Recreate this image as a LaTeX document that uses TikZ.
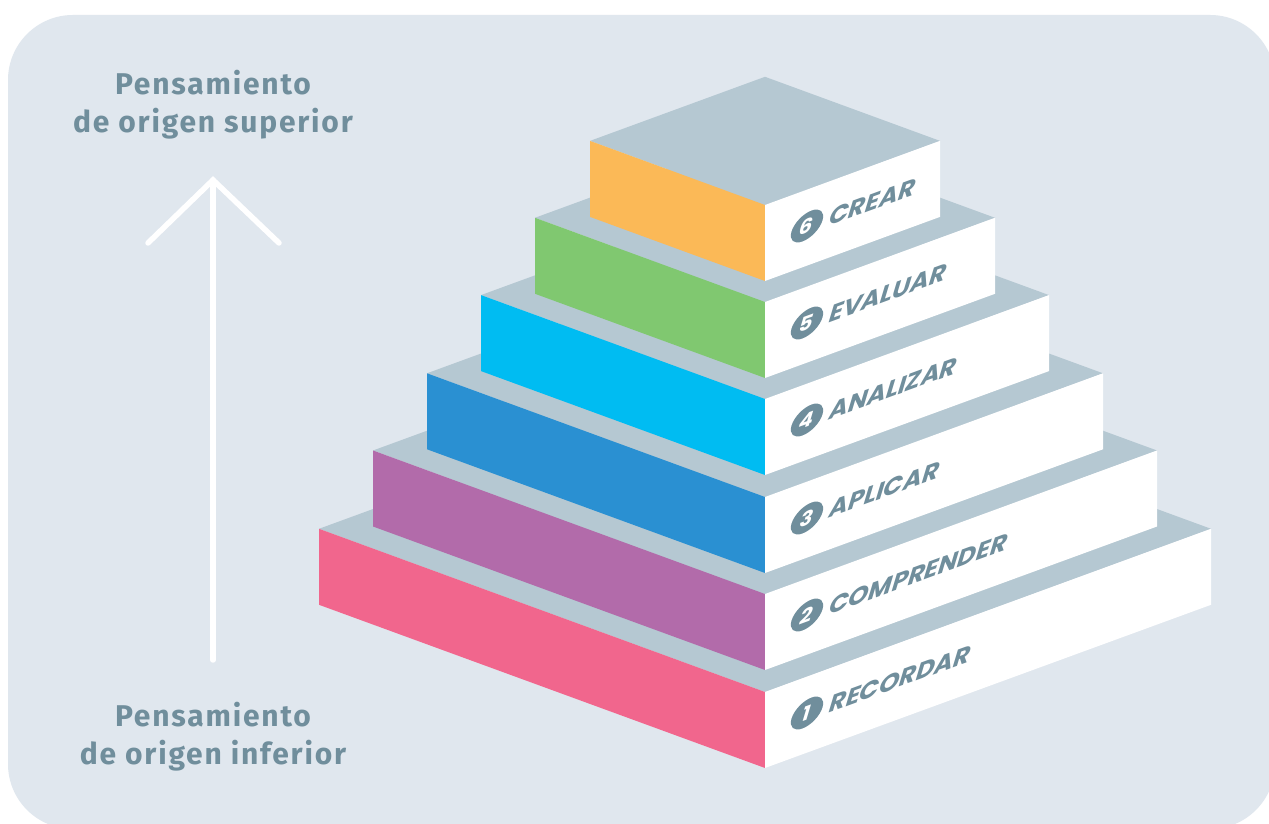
\documentclass[tikz,border=0pt]{standalone}
\usepackage{fontspec}
\setmainfont{Fira Sans}
\newfontfamily\stepfont{Poppins}
\definecolor{bgcol}{HTML}{E0E7EE}
\definecolor{topcol}{HTML}{B5C8D2}
\definecolor{txtcol}{HTML}{708E9C}
\definecolor{recorcol}{HTML}{F1668D}
\definecolor{compcol}{HTML}{B26BAA}
\definecolor{aplicol}{HTML}{2A90D2}
\definecolor{analizcol}{HTML}{00BCF2}
\definecolor{evalcol}{HTML}{80C870}
\definecolor{crearcol}{HTML}{FBB957}
\tikzset{
  topface/.style={fill=topcol},
  sideface/.style={fill=white},
  facetext/.style={cm={1,0.366,0.3,1,(0,0)}, transform shape},
  numdot/.style={circle, fill=txtcol, inner sep=0pt, minimum size=31pt,
    text=white, font=\stepfont\bfseries\fontsize{21}{21}\selectfont},
  steplabel/.style={anchor=west, inner sep=0pt, text=txtcol,
    font=\stepfont\bfseries\fontsize{25.5}{25.5}\selectfont},
  sidelabel/.style={anchor=base, inner sep=0pt, text=txtcol,
    font=\bfseries\fontsize{30}{30}\selectfont\addfontfeature{LetterSpace=6}}
}
\begin{document}
\begin{tikzpicture}[x=1pt, y=1pt]
        \useasboundingbox (0,0) rectangle (1269,824);
        \fill[white] (0,0) rectangle (1269,824);
        \fill[bgcol, rounded corners=65pt] (8,-5) rectangle (1275,809);

        % Arrow (upwards)
        \coordinate (arrowbot) at (213,164);
        \coordinate (arrowtop) at (213,644);
        \draw[white, line width=5.5pt, line cap=round] (arrowbot) -- (arrowtop);
        \draw[white, line width=5.5pt, line cap=round, line join=miter]
            (148,581) -- (arrowtop) -- (279,581);

        % Side texts
        \node[sidelabel] (sup1) at (213,729) {Pensamiento};
        \node[sidelabel] (sup2) at (213,691) {de origen superior};
        \node[sidelabel] (inf1) at (213,97) {Pensamiento};
        \node[sidelabel] (inf2) at (213,59) {de origen inferior};

        % Step 1 (RECORDAR)
        \begin{scope}[shift={(765,132)}]
            \fill[topface] (0,0) -- (-446,163.2) -- (0,326.4) -- (446,163.2) -- cycle;
            \fill[recorcol] (0,0) -- (-446,163.2) -- ++(0,-76) -- (0,-76) -- cycle;
            \fill[sideface] (0,0) -- (446,163.2) -- ++(0,-76) -- (0,-76) -- cycle;
            \begin{scope}[shift={(42,-21)}, facetext]
                \node[numdot] (n1) at (0,0) {1};
                \node[steplabel] (l1) at (23,0) {RECORDAR};
            \end{scope}
        \end{scope}

        % Step 2 (COMPRENDER)
        \begin{scope}[shift={(765,230)}]
            \fill[topface] (0,0) -- (-392,143.5) -- (0,287) -- (392,143.5) -- cycle;
            \fill[compcol] (0,0) -- (-392,143.5) -- ++(0,-76) -- (0,-76) -- cycle;
            \fill[sideface] (0,0) -- (392,143.5) -- ++(0,-76) -- (0,-76) -- cycle;
            \begin{scope}[shift={(42,-21)}, facetext]
                \node[numdot] (n2) at (0,0) {2};
                \node[steplabel] (l2) at (23,0) {COMPRENDER};
            \end{scope}
        \end{scope}

        % Step 3 (APLICAR)
        \begin{scope}[shift={(765,327)}]
            \fill[topface] (0,0) -- (-338,123.7) -- (0,247.4) -- (338,123.7) -- cycle;
            \fill[aplicol] (0,0) -- (-338,123.7) -- ++(0,-76) -- (0,-76) -- cycle;
            \fill[sideface] (0,0) -- (338,123.7) -- ++(0,-76) -- (0,-76) -- cycle;
            \begin{scope}[shift={(42,-21)}, facetext]
                \node[numdot] (n3) at (0,0) {3};
                \node[steplabel] (l3) at (23,0) {APLICAR};
            \end{scope}
        \end{scope}

        % Step 4 (ANALIZAR)
        \begin{scope}[shift={(765,425)}]
            \fill[topface] (0,0) -- (-284,103.9) -- (0,207.8) -- (284,103.9) -- cycle;
            \fill[analizcol] (0,0) -- (-284,103.9) -- ++(0,-76) -- (0,-76) -- cycle;
            \fill[sideface] (0,0) -- (284,103.9) -- ++(0,-76) -- (0,-76) -- cycle;
            \begin{scope}[shift={(42,-21)}, facetext]
                \node[numdot] (n4) at (0,0) {4};
                \node[steplabel] (l4) at (23,0) {ANALIZAR};
            \end{scope}
        \end{scope}

        % Step 5 (EVALUAR)
        \begin{scope}[shift={(765,522)}]
            \fill[topface] (0,0) -- (-230,84.2) -- (0,168.4) -- (230,84.2) -- cycle;
            \fill[evalcol] (0,0) -- (-230,84.2) -- ++(0,-76) -- (0,-76) -- cycle;
            \fill[sideface] (0,0) -- (230,84.2) -- ++(0,-76) -- (0,-76) -- cycle;
            \begin{scope}[shift={(42,-21)}, facetext]
                \node[numdot] (n5) at (0,0) {5};
                \node[steplabel] (l5) at (23,0) {EVALUAR};
            \end{scope}
        \end{scope}

        % Step 6 (CREAR), top
        \begin{scope}[shift={(765,619)}]
            \fill[topface] (0,0) -- (-175,64.1) -- (0,128.2) -- (175,64.1) -- cycle;
            \fill[crearcol] (0,0) -- (-175,64.1) -- ++(0,-76) -- (0,-76) -- cycle;
            \fill[sideface] (0,0) -- (175,64.1) -- ++(0,-76) -- (0,-76) -- cycle;
            \begin{scope}[shift={(42,-21)}, facetext]
                \node[numdot] (n6) at (0,0) {6};
                \node[steplabel] (l6) at (23,0) {CREAR};
            \end{scope}
        \end{scope}
\end{tikzpicture}
\end{document}
